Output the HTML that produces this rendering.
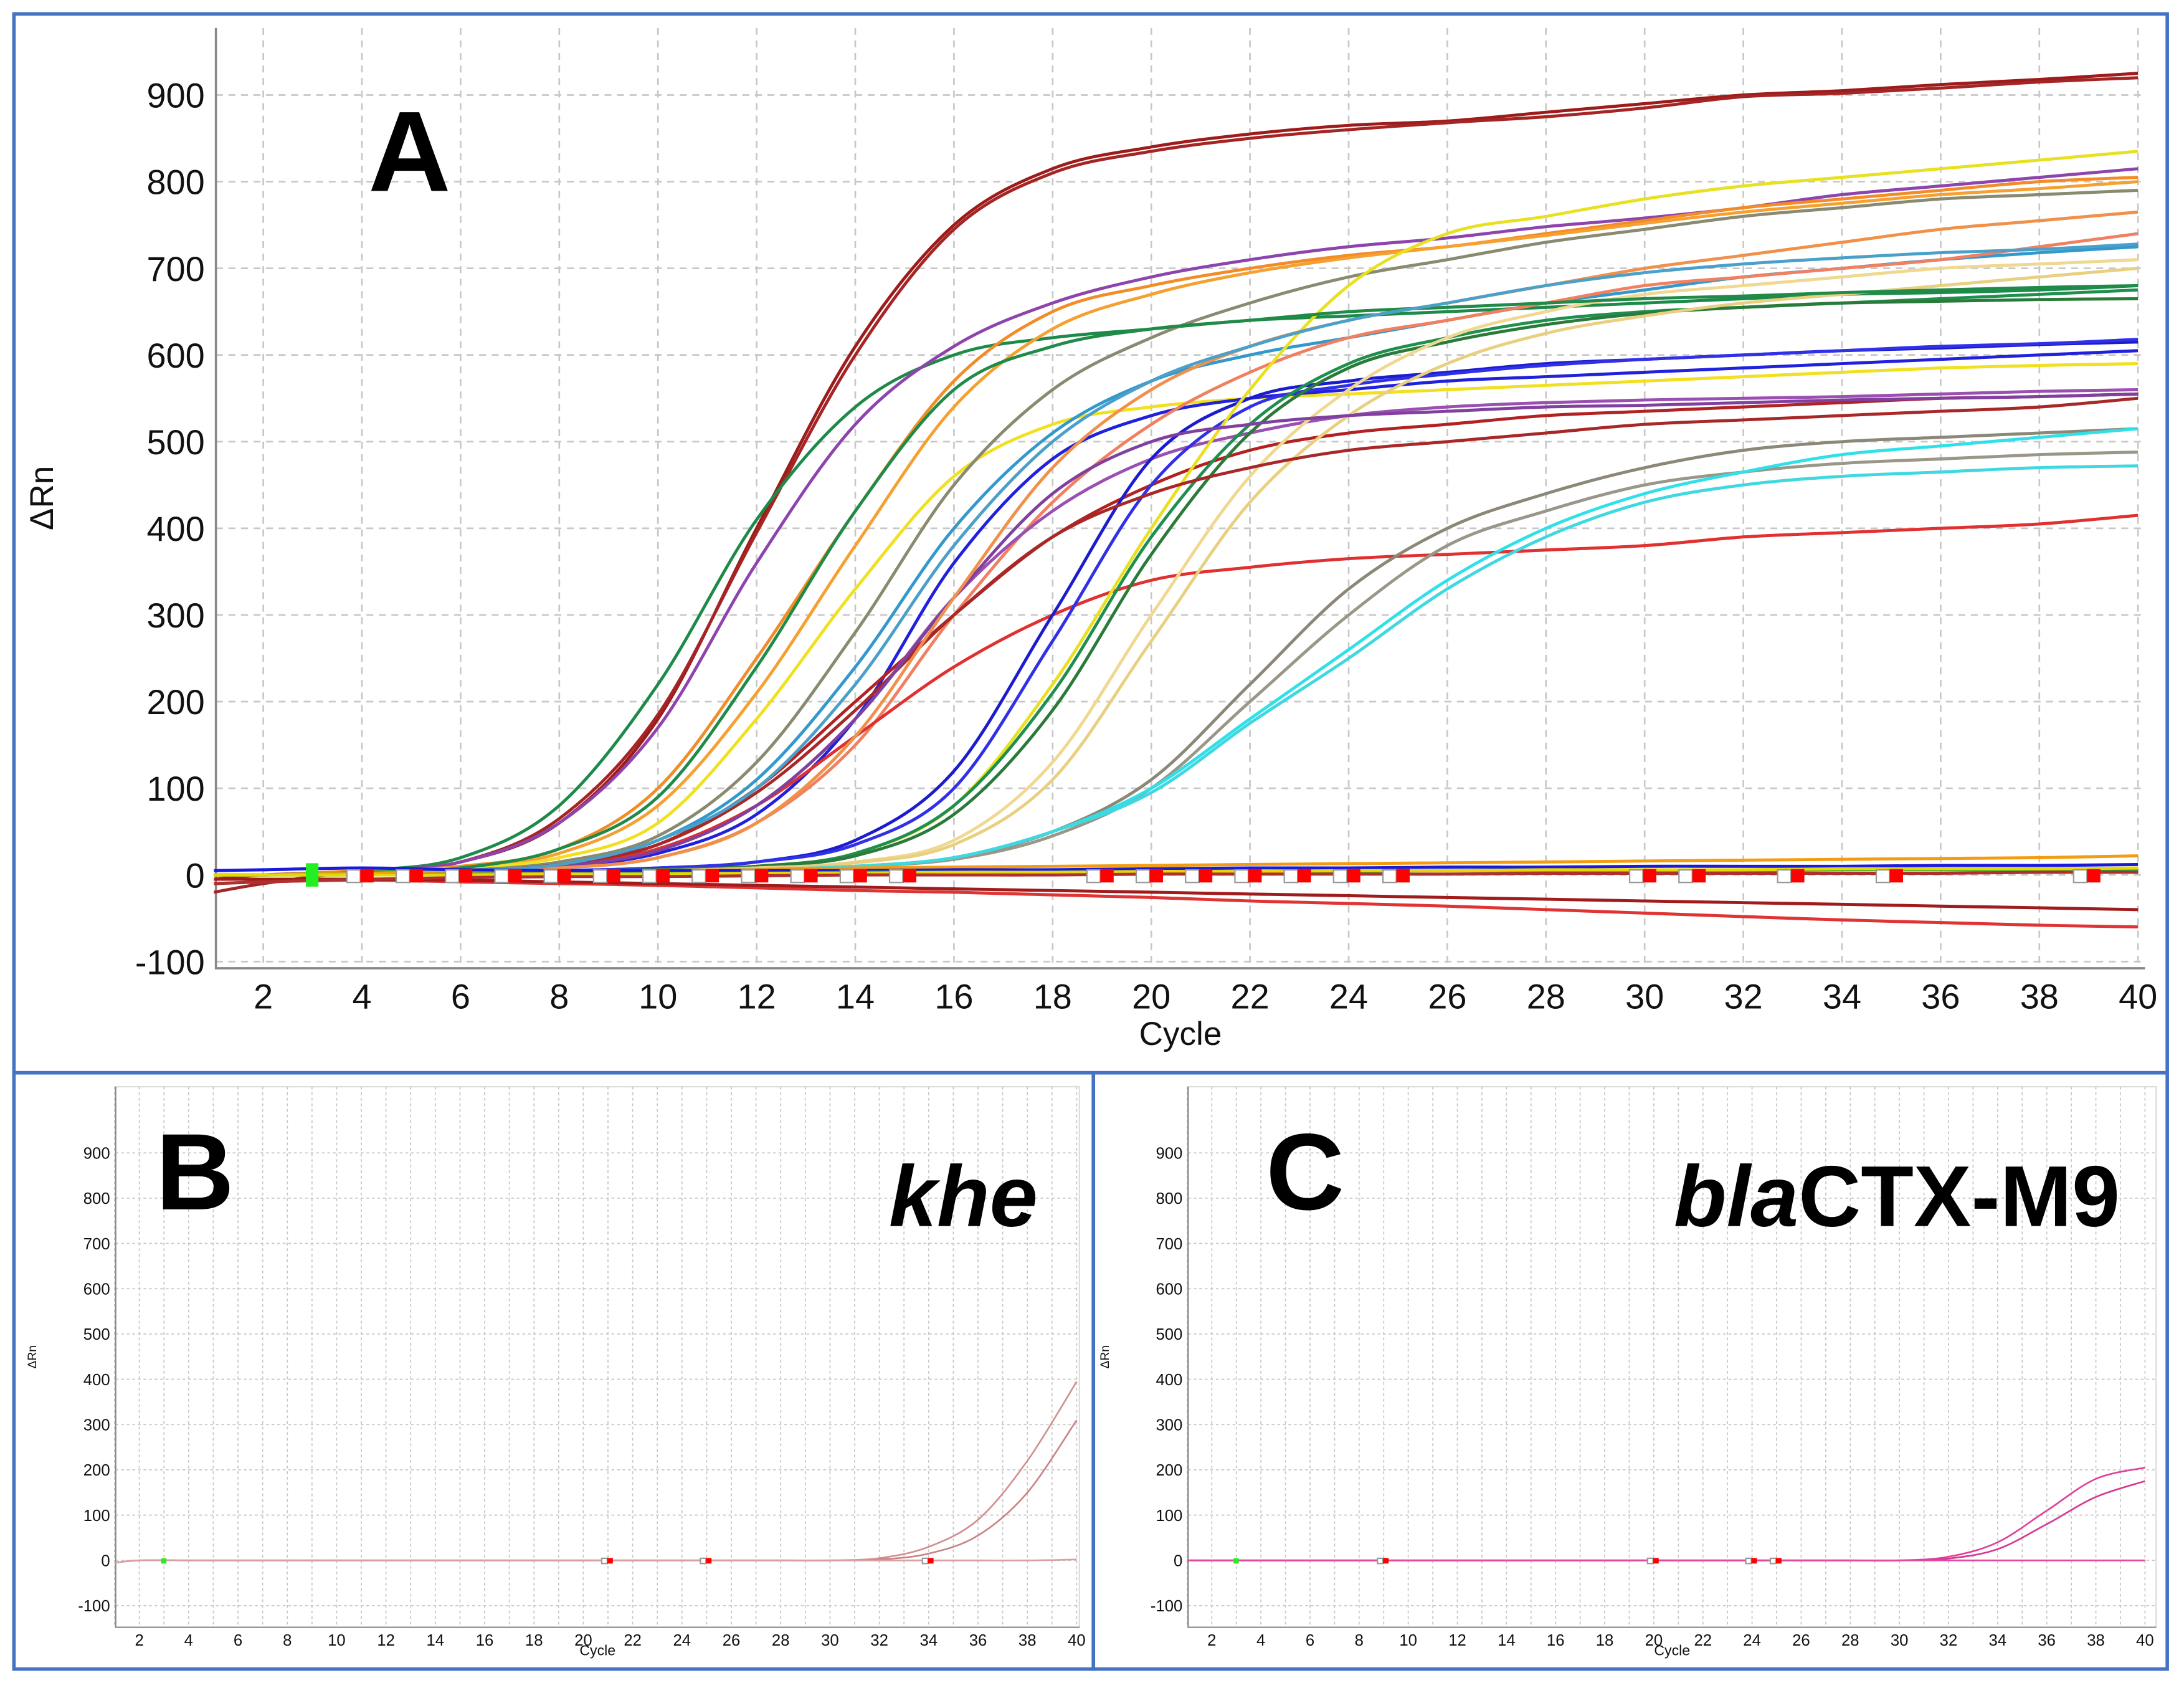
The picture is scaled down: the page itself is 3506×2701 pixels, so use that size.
<!DOCTYPE html>
<html><head><meta charset="utf-8">
<style>
html,body{margin:0;padding:0;background:#fff;}
svg{display:block;}
text{font-family:"Liberation Sans",sans-serif;}
</style></head>
<body>
<svg id="fig" width="3506" height="2701" viewBox="0 0 1568 1208" xmlns="http://www.w3.org/2000/svg">
<rect x="0" y="0" width="1568" height="1208" fill="#fff"/>
<g id="frames">
<rect x="10" y="10" width="1546" height="760" fill="none" stroke="#4472c4" stroke-width="2.5"/>
<rect x="10" y="770" width="775" height="428" fill="none" stroke="#4472c4" stroke-width="2.5"/>
<rect x="785" y="770" width="771" height="428" fill="none" stroke="#4472c4" stroke-width="2.5"/>
</g>
<g id="pA"></g>
<g id="pB"></g>
<g id="pC"></g>
</svg>
<script>
const cycles = [1,2,4,6,8,10,12,14,16,18,20,22,24,26,28,30,32,34,36,38,40];
const yTicks = [-100,0,100,200,300,400,500,600,700,800,900];
const xTicks = [2,4,6,8,10,12,14,16,18,20,22,24,26,28,30,32,34,36,38,40];
const aColors = ["#9e1b1b","#a52525","#1e8a4a","#8e44ad","#f28c28","#f5a030","#f0e020","#8a8a70","#3399cc","#2020dd","#b22222","#f08060","#9b4fb0","#e03030","#1c1ccf","#3030e8","#e8e020","#1f8f50","#2a7a3a","#f0d890","#e8d080","#8c8878","#9a9688","#30e0e8","#40d8e0","#a82828","#8040a0","#208a48","#f0904a","#4aa0c8","#e03434","#a01c1c","#f39c12","#1a1add","#22aa44","#e6d800","#b03030"];
const aSeries = [
[-5,0,5,15,60,180,400,610,750,815,840,855,865,870,880,890,900,905,912,918,925],
[-20,-10,5,15,65,185,395,600,745,810,835,850,860,868,875,885,898,902,908,915,920],
[0,0,5,20,80,220,410,540,600,620,630,640,645,650,655,660,665,670,672,675,680],
[0,0,5,15,60,170,360,520,610,660,690,710,725,735,748,758,770,785,795,805,815],
[0,0,5,10,30,100,250,420,570,650,680,700,715,725,740,755,770,780,790,800,805],
[0,0,3,8,25,80,210,380,540,630,670,695,712,725,738,752,765,775,785,792,800],
[0,0,3,8,20,60,180,330,460,520,540,550,555,560,565,570,575,580,585,588,590],
[0,0,2,5,15,45,130,280,450,560,620,660,690,710,730,745,760,770,780,785,790],
[0,0,2,5,12,40,110,240,400,510,570,600,620,640,660,675,690,700,710,718,725],
[0,0,2,4,10,25,70,180,360,480,530,550,560,570,575,580,585,590,595,600,605],
[0,0,2,4,12,35,100,200,300,390,450,490,510,520,530,535,540,545,550,552,555],
[0,0,2,4,8,20,60,150,300,430,520,580,620,640,660,680,690,700,710,725,740],
[0,0,2,4,10,30,80,180,320,420,480,510,530,540,545,548,550,552,555,558,560],
[0,0,2,4,10,30,80,160,240,300,340,355,365,370,375,380,390,395,400,405,415],
[0,0,2,3,5,8,15,40,120,300,480,550,570,580,590,595,600,605,608,612,615],
[0,0,2,3,5,8,15,35,100,270,450,540,565,578,588,595,600,605,610,613,618],
[0,0,1,2,4,6,10,25,80,220,400,560,680,740,760,780,795,805,815,825,835],
[0,0,1,2,4,6,10,25,80,210,390,520,590,620,640,650,655,660,665,670,675],
[0,0,1,2,4,6,10,22,70,190,370,510,585,615,635,648,655,660,662,664,665],
[0,0,1,2,3,5,8,15,40,130,300,460,560,620,650,670,680,690,700,705,710],
[0,0,1,2,3,5,8,14,35,110,270,430,530,590,625,645,660,670,680,690,700],
[0,0,1,2,3,4,6,10,20,50,110,220,330,400,440,470,490,500,505,510,515],
[0,0,1,2,3,4,6,10,18,45,100,200,300,380,420,450,465,475,480,485,488],
[0,0,1,2,3,4,6,10,20,50,100,180,260,340,400,440,465,485,495,505,515],
[0,0,1,2,3,4,6,10,20,50,95,175,250,330,390,430,450,460,465,470,472],
[0,0,2,4,12,35,95,190,300,390,440,470,490,500,510,520,525,530,535,540,550],
[0,0,2,4,10,28,80,180,320,440,500,520,530,535,540,542,545,548,550,552,555],
[0,0,3,8,30,90,240,420,560,610,630,640,650,655,660,665,668,672,675,678,680],
[0,0,2,4,8,20,60,160,320,470,560,610,640,660,680,700,715,730,745,755,765],
[0,0,2,5,12,40,100,220,380,500,570,610,640,660,680,695,705,712,718,722,728],
[-10,-8,-6,-8,-10,-12,-15,-18,-20,-23,-26,-30,-33,-36,-40,-44,-48,-52,-55,-58,-60],
[-5,-5,-5,-6,-8,-10,-12,-14,-16,-18,-20,-22,-24,-26,-28,-30,-32,-34,-36,-38,-40],
[0,0,2,3,4,5,6,8,9,10,11,12,13,14,15,16,17,18,19,20,22],
[5,6,8,6,5,5,5,5,6,6,7,8,8,9,9,10,10,10,11,11,12],
[0,0,0,1,1,2,2,3,3,3,4,4,4,5,5,5,5,6,6,6,6],
[0,0,0,0,1,1,2,2,3,3,4,4,5,5,6,6,6,7,7,7,8],
[-10,-8,-5,-3,-2,-2,-1,0,0,0,1,1,1,1,2,2,2,2,2,3,3]
];
const aMarkers = [4,5,6,7,8,9,10,11,12,13,14,15,19,20,21,22,23,24,25,30,31,33,35,39];
const aGreenMarker = [3];
const bSeries = [
[-5,0,0,0,0,0,0,0,0,0,0,0,0,0,0,0,5,30,90,220,395],
[-5,0,0,0,0,0,0,0,0,0,0,0,0,0,0,0,2,15,55,150,310],
[-5,0,0,0,0,0,0,0,0,0,0,0,0,0,0,0,0,0,0,0,2]
];
const bMarkers = [21,25,34];
const cSeries = [
[0,0,0,0,0,0,0,0,0,0,0,0,0,0,0,0,8,40,110,180,205],
[0,0,0,0,0,0,0,0,0,0,0,0,0,0,0,0,4,25,80,140,175],
[0,0,0,0,0,0,0,0,0,0,0,0,0,0,0,0,0,0,0,0,0]
];
const cMarkers = [9,20,24,25];
const NS="http://www.w3.org/2000/svg";
function mk(p,tag,at){const e=document.createElementNS(NS,tag);for(const k in at)e.setAttribute(k,at[k]);p.appendChild(e);return e;}
function smooth(pts){
  let d='M'+pts[0][0].toFixed(1)+','+pts[0][1].toFixed(1);
  for(let i=0;i<pts.length-1;i++){
    const p0=pts[Math.max(0,i-1)],p1=pts[i],p2=pts[i+1],p3=pts[Math.min(pts.length-1,i+2)];
    const c1x=p1[0]+(p2[0]-p0[0])/6,c1y=p1[1]+(p2[1]-p0[1])/6;
    const c2x=p2[0]-(p3[0]-p1[0])/6,c2y=p2[1]-(p3[1]-p1[1])/6;
    d+=`C${c1x.toFixed(1)},${c1y.toFixed(1)} ${c2x.toFixed(1)},${c2y.toFixed(1)} ${p2[0].toFixed(1)},${p2[1].toFixed(1)}`;
  }
  return d;
}
function panel(g,cfg){
  const x=c=>cfg.x2+(c-2)*(cfg.x40-cfg.x2)/38;
  const y=v=>cfg.y0-v*cfg.ys;
  const bg=mk(g,'rect',{x:cfg.L,y:cfg.T,width:cfg.R-cfg.L,height:cfg.B-cfg.T,fill:'#fff',stroke:cfg.small?'#ddd':'none'});
  
  
  const grid=mk(g,'g',{stroke:'#c8c8c8','stroke-width':cfg.small?0.8:1.2,'stroke-dasharray':cfg.small?'2,2':'5,4'});
  
  
  const xt=cfg.small?[1,2,3,4,5,6,7,8,9,10,11,12,13,14,15,16,17,18,19,20,21,22,23,24,25,26,27,28,29,30,31,32,33,34,35,36,37,38,39,40]:xTicks;
  xt.forEach(c=>mk(grid,'line',{x1:x(c),x2:x(c),y1:cfg.T,y2:cfg.B}));
  yTicks.forEach(v=>mk(grid,'line',{x1:cfg.L,x2:cfg.R,y1:y(v),y2:y(v)}));
  const ax=mk(g,'path',{d:`M${cfg.L},${cfg.T}V${cfg.B}H${cfg.R}`,fill:'none',stroke:'#888','stroke-width':cfg.small?1:1.6});
  
  
  const yl=mk(g,'g',{'font-size':cfg.fs,fill:'#111','text-anchor':'end'});
  
  
  yTicks.forEach(v=>{const t=mk(yl,'text',{x:cfg.L-(cfg.small?4:8),y:y(v)+cfg.fs*0.36});t.textContent=v;});
  const xl=mk(g,'g',{'font-size':cfg.fs,fill:'#111','text-anchor':'middle'});
  
  
  xTicks.forEach(c=>{const t=mk(xl,'text',{x:x(c),y:cfg.B+cfg.fs*1.15});t.textContent=c;});
  const xt2=mk(g,'text',{x:(cfg.L+cfg.R)/2,y:cfg.B+cfg.fs*(cfg.small?1.75:2.2),'font-size':cfg.fs*(cfg.small?0.9:0.95),'text-anchor':'middle',fill:'#111'});
  xt2.textContent='Cycle';
  
  
  const yt=mk(g,'text',{x:0,y:0,'font-size':cfg.fs*(cfg.small?0.75:0.95),'text-anchor':'middle',fill:'#111',transform:`translate(${cfg.ytx},${(cfg.T+cfg.B)/2}) rotate(-90)`});
  yt.textContent='ΔRn';
  
  
  const ms=cfg.small?5:12;
  const mg=mk(g,'g',{});
  
  
  cfg.series.forEach((s,i)=>{
    const pts=s.map((v,j)=>[x(cycles[j]),y(v)]);
    const p=mk(g,'path',{d:smooth(pts),fill:'none',stroke:cfg.colors[i%cfg.colors.length],'stroke-width':cfg.small?1.2:2.2,'stroke-linejoin':'round'});
    
    
  });
  g.appendChild(mg);
  cfg.markers.forEach(c=>{
    const r1=mk(mg,'rect',{x:x(c)-ms*0.9,y:y(0)-ms*0.3,width:ms*0.8,height:ms*0.75,fill:'#fff',stroke:'#999','stroke-width':1});
    
    
    const r2=mk(mg,'rect',{x:x(c)-ms*0.1,y:y(0)-ms*0.35,width:ms*0.8,height:ms*0.8,fill:'#f00'});
    
    
  });
  aGreenMarker.forEach(c=>{
    const r=mk(mg,'rect',{x:x(c)-ms*0.4,y:y(0)-ms*(cfg.small?0.3:0.7),width:ms*0.75,height:ms*(cfg.small?0.75:1.4),fill:'#22ee22'});
    
    
  });
}
panel(document.getElementById('pA'),{L:155,R:1540,T:20,B:695,x2:189,x40:1535,y0:628,ys:0.622,fs:25,ytx:38,series:aSeries,colors:aColors,markers:aMarkers,small:false});
panel(document.getElementById('pB'),{L:83,R:775,T:780,B:1168,x2:100,x40:773,y0:1120,ys:0.325,fs:11.5,ytx:26,series:bSeries,colors:["#d09090","#c98484","#d8a0a0"],markers:bMarkers,small:true});
panel(document.getElementById('pC'),{L:853,R:1548,T:780,B:1168,x2:870,x40:1540,y0:1120,ys:0.325,fs:11.5,ytx:796,series:cSeries,colors:["#e0409a","#d83890","#e04aa0"],markers:cMarkers,small:true});
function lab(txt,x,y,fs,ital,name,anchor){const t=mk(document.getElementById('fig'),'text',{x:x,y:y,'font-size':fs,'font-weight':'bold','font-style':ital?'italic':'normal','text-anchor':anchor||'middle',fill:'#000'});t.textContent=txt;return t;}
lab('A',294,137,82,false,'panel-a-label');
lab('B',140,868,78,false,'panel-b-label');
lab('C',937,868,78,false,'panel-c-label');
lab('khe',745,880,62,true,'panel-b-gene-label','end');
const g=mk(document.getElementById('fig'),'text',{x:1522,y:880,'font-size':62,'font-weight':'bold','text-anchor':'end',fill:'#000'});


const ts=mk(g,'tspan',{'font-style':'italic'});ts.textContent='bla';
const ts2=mk(g,'tspan',{});ts2.textContent='CTX-M9';
</script>
</body></html>
